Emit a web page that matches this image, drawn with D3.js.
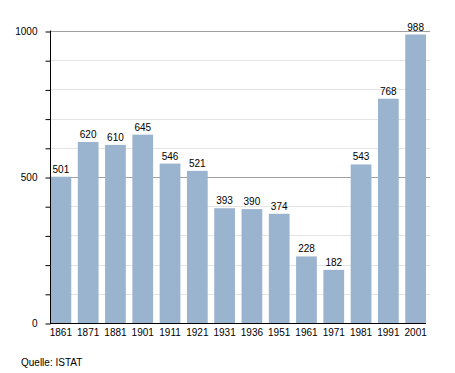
<!DOCTYPE html>
<html>
<head>
<meta charset="utf-8">
<title>Einwohner</title>
<style>
  body { margin: 0; background: #fff; }
  text { font-family: "Liberation Sans", Arial, sans-serif; font-size: 10px; fill: #000; }
</style>
</head>
<body>
<svg id="chart" width="455" height="373"></svg>
<script src="https://d3js.org/d3.v7.min.js"></script>
<script>
// data
var jahre = ["1861", "1871", "1881", "1901", "1911", "1921", "1931", "1936", "1951", "1961", "1971", "1981", "1991", "2001"];
var einwohner = [501, 620, 610, 645, 546, 521, 393, 390, 374, 228, 182, 543, 768, 988];
var hauptTicks = [0, 500, 1000];
var nebenTicks = [100, 200, 300, 400, 600, 700, 800, 900];

var svg = d3.select('#chart');

var x = d3.scaleBand()
    .domain(jahre)
    .range([50.5, 426])
    .paddingInner(0.24)
    .paddingOuter(0);

var y = d3.scaleLinear()
    .domain([0, 1000])
    .range([323, 31]);

// light grid lines every 100
svg.append('g')
    .selectAll('line')
    .data(nebenTicks)
    .enter()
    .append('line')
    .attr('x1', 50).attr('x2', 430)
    .attr('y1', function(d) { return Math.round(y(d)) + 0.5; })
    .attr('y2', function(d) { return Math.round(y(d)) + 0.5; })
    .attr('stroke', '#e4e4e4');

// darker lines at 500 and 1000
svg.append('g')
    .selectAll('line')
    .data(hauptTicks.slice(1))
    .enter()
    .append('line')
    .attr('x1', 50).attr('x2', 430)
    .attr('y1', function(d) { return Math.round(y(d)) + 0.5; })
    .attr('y2', function(d) { return Math.round(y(d)) + 0.5; })
    .attr('stroke', '#a0a0a0');

// bars
svg.append('g')
    .selectAll('rect')
    .data(einwohner)
    .enter()
    .append('rect')
    .attr('x', function(d, i) { return x(jahre[i]); })
    .attr('width', x.bandwidth())
    .attr('y', function(d) { return y(d); })
    .attr('height', function(d) { return y(0) - y(d); })
    .attr('fill', '#9ab3cf');

// values above bars
svg.append('g')
    .selectAll('text')
    .data(einwohner)
    .enter()
    .append('text')
    .attr('x', function(d, i) { return x(jahre[i]) + x.bandwidth() / 2; })
    .attr('y', function(d) { return y(d) - 4; })
    .attr('text-anchor', 'middle')
    .text(function(d) { return d; });

// y axis
var yAxis = d3.axisLeft(y)
    .tickValues(hauptTicks.concat(nebenTicks))
    .tickSize(5)
    .tickPadding(8)
    .tickFormat(function(d) { return hauptTicks.indexOf(d) >= 0 ? d : ''; });

var ga = svg.append('g')
    .attr('transform', 'translate(50.5,0.5)')
    .call(yAxis);
ga.select('.domain').attr('d', 'M0,' + (y(1000) - 1) + 'V' + y(0)).attr('stroke', '#000');
ga.selectAll('.tick line').attr('stroke', '#000');
ga.selectAll('.tick text')
    .attr('font-family', '"Liberation Sans", Arial, sans-serif')
    .attr('font-size', 10)
    .attr('dx', 0);

// x axis
var xAxis = d3.axisBottom(x).tickSize(0).tickPadding(5);
var gx = svg.append('g')
    .attr('transform', 'translate(0,' + (y(0) + 0.5) + ')')
    .call(xAxis);
gx.select('.domain').attr('d', 'M50,0H426').attr('stroke', '#000');
gx.selectAll('.tick text')
    .attr('font-family', '"Liberation Sans", Arial, sans-serif')
    .attr('font-size', 10);

// source
svg.append('text')
    .attr('x', 21)
    .attr('y', 366)
    .text('Quelle: ISTAT');
</script>
</body>
</html>
